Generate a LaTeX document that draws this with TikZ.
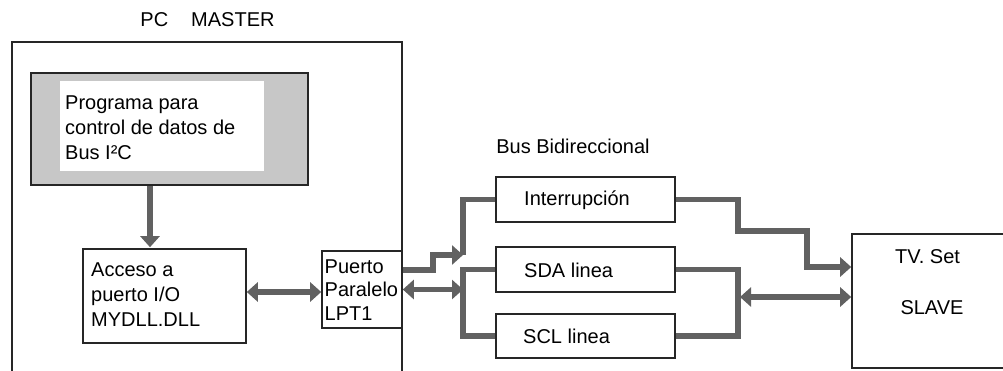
\documentclass[tikz,border=0pt]{standalone}
\usepackage{fontspec}
\setmainfont{Liberation Sans}
\usetikzlibrary{arrows.meta}
\begin{document}
\begin{tikzpicture}[x=1pt,y=-1pt,
  >={Triangle[length=11pt,width=19pt]},
  box/.style={draw=black!85,line width=1.6pt,rectangle,inner sep=0pt},
  lbl/.style={inner sep=0pt,align=left,font=\fontsize{20}{25}\selectfont},
  bus/.style={draw=black!62,line width=5.5pt}]
\clip (0,0) rectangle (1003,370);
\fill[white] (0,0) rectangle (1003,370);
% PC box
\node[box,minimum width=390pt,minimum height=370pt] (pc) at (207,227) {};
\node[lbl] (pct) at (207.5,20) {PC\hspace{23pt}MASTER};
% program box
\node[box,fill=black!22,minimum width=277pt,minimum height=112pt] (prog) at (169.5,129) {};
\fill[white] (60,81) rectangle (264,171);
\node[lbl,anchor=west] (progt) at (65,128) {Programa para\\control de datos de\\Bus I²C};
% acceso
\node[box,fill=white,minimum width=163pt,minimum height=94pt] (acc) at (164.5,296) {};
\node[lbl,anchor=west] (acct) at (91,295) {Acceso a\\puerto I/O\\MYDLL.DLL};
% puerto
\node[box,fill=white,minimum width=80pt,minimum height=77pt] (pto) at (362,289.5) {};
\node[lbl,anchor=west,font=\fontsize{20}{23.5}\selectfont] (ptot) at (324.5,290) {Puerto\\Paralelo\\LPT1};
% bus boxes
\node[lbl] (bust) at (573,146) {Bus Bidireccional};
\node[box,minimum width=179pt,minimum height=45pt] (int) at (585.5,199.5) {};
\node[box,minimum width=179pt,minimum height=45pt] (sda) at (585.5,269.5) {};
\node[box,minimum width=179pt,minimum height=44pt] (scl) at (585.5,336) {};
\node[lbl,anchor=west] (intt) at (524,200) {Interrupción};
\node[lbl,anchor=west] (sdat) at (524,270) {SDA linea};
\node[lbl,anchor=west] (sclt) at (523,336) {SCL linea};
% TV
\node[box,minimum width=176pt,minimum height=134pt] (tv) at (940,301) {};
\node[lbl] (tv1) at (927.5,257) {TV. Set};
\node[lbl] (tv2) at (932,308) {SLAVE};
% coordinates
\coordinate (a1) at (150,0);
\coordinate (a2) at (0,292);
\coordinate (j1) at (433,270);
\coordinate (j2) at (463,255);
\coordinate (k1) at (463,300);
\coordinate (r1) at (738,231);
\coordinate (r2) at (807,267);
\coordinate (r3) at (738,300);
\coordinate (r4) at (740,297);
% connectors
\draw[bus,->] (prog.south -| a1) -- ([yshift=1pt]acc.north -| a1);
\draw[bus,<->] (acc.east |- a2) -- (pto.west |- a2);
\draw[bus,->] (pto.east |- j1) -- (j1) |- (j2);
\draw[bus] (int.west) -| (j2);
\draw[bus,<->] (pto.east) -- (pto.east -| k1);
\draw[bus] (sda.west) -| (k1) |- (scl.west);
\draw[bus,->] (int.east) -| (r1) -| (r2) -- (r2 -| tv.west);
\draw[bus] (sda.east) -| (r3) |- (scl.east);
\draw[bus,<->] (r4) -- (r4 -| tv.west);
\end{tikzpicture}
\end{document}
